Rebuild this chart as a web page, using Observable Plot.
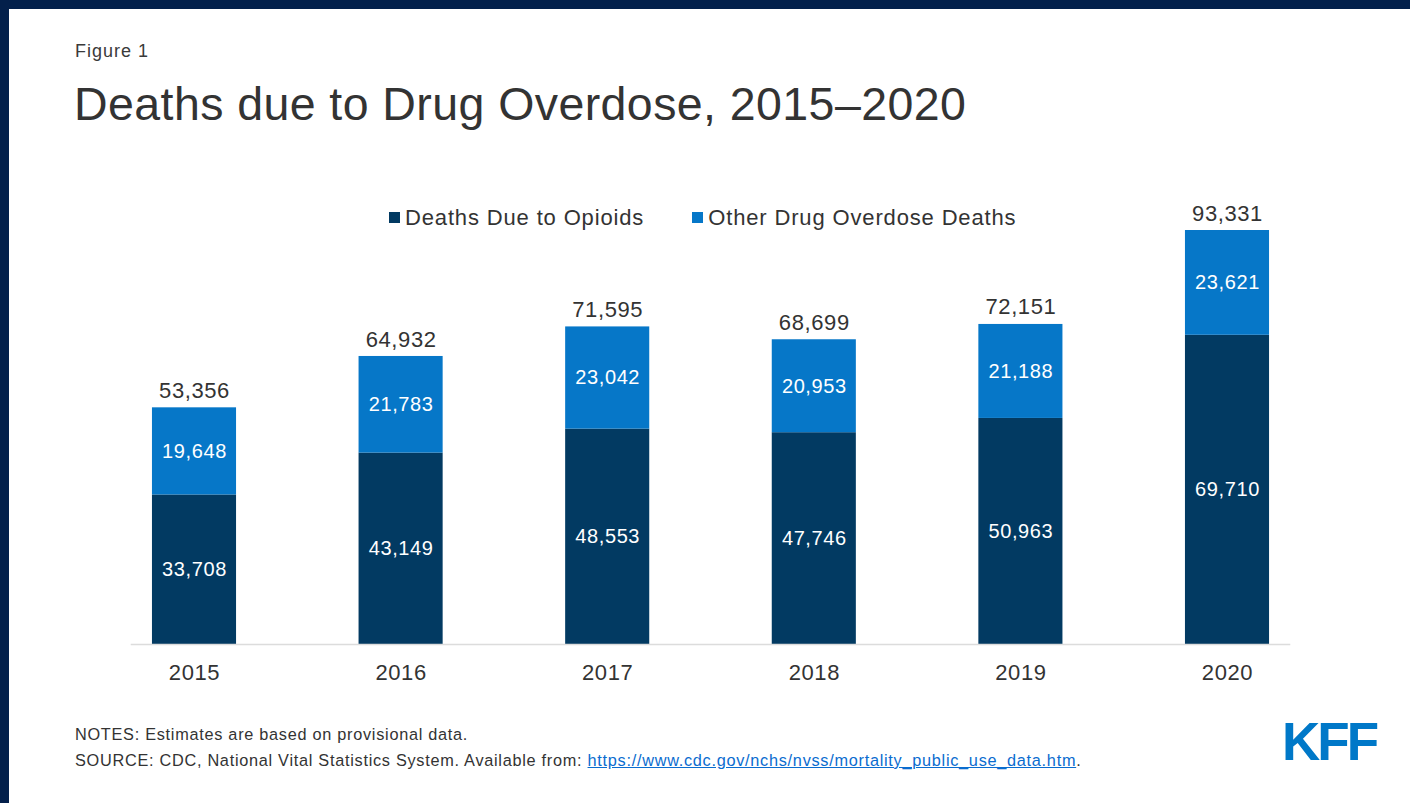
<!DOCTYPE html>
<html>
<head>
<meta charset="utf-8">
<script src="https://cdn.jsdelivr.net/npm/d3@7"></script>
<script src="https://cdn.jsdelivr.net/npm/@observablehq/plot@0.6"></script>
<style>
  html, body { margin: 0; padding: 0; background: #ffffff; }
  body { width: 1410px; height: 803px; position: relative; overflow: hidden; font-family: "Liberation Sans", Arial, Helvetica, sans-serif; color: #333333; }
  .frame-top { position: absolute; left: 0; top: 0; width: 1410px; height: 9px; background: #03204b; }
  .frame-left { position: absolute; left: 0; top: 0; width: 9px; height: 803px; background: #03204b; }
  .fig { position: absolute; left: 75px; top: 41px; font-size: 18px; letter-spacing: 1px; color: #3a3a3a; }
  .title { position: absolute; left: 74px; top: 77px; font-size: 46.5px; letter-spacing: 0.42px; color: #333333; white-space: nowrap; }
  .legend { position: absolute; top: 203px; left: 389px; font-size: 22px; letter-spacing: 0.85px; color: #333333; white-space: nowrap; }
  .legend span.item { display: inline-flex; align-items: center; }
  .legend span.sw { display: inline-block; width: 11px; height: 11px; margin-right: 5px; }
  .notes { position: absolute; left: 75px; top: 721px; font-size: 16.3px; letter-spacing: 0.72px; line-height: 26px; color: #333333; white-space: nowrap; }
  .notes a { color: #0a6ccf; text-decoration: underline; }
  .logo { position: absolute; left: 1282px; top: 711px; font-size: 53px; font-weight: 900; color: #0078c8; letter-spacing: -3px; font-family: "Liberation Sans", Arial, sans-serif; }
  #chart { position: absolute; left: 0; top: 180px; }
  #chart svg text { letter-spacing: 0.6px; }
</style>
</head>
<body>
<div class="frame-top"></div>
<div class="frame-left"></div>
<div class="fig">Figure 1</div>
<div class="title">Deaths due to Drug Overdose, 2015–2020</div>
<div class="legend" id="legend"></div>
<div id="chart"></div>
<div class="notes">NOTES: Estimates are based on provisional data.<br>SOURCE: CDC, National Vital Statistics System. Available from: <a href="https://www.cdc.gov/nchs/nvss/mortality_public_use_data.htm">https://www.cdc.gov/nchs/nvss/mortality_public_use_data.htm</a>.</div>
<div class="logo">KFF</div>
<script>
const years = ["2015", "2016", "2017", "2018", "2019", "2020"];
const opioidDeaths = [33708, 43149, 48553, 47746, 50963, 69710];
const otherDeaths = [19648, 21783, 23042, 20953, 21188, 23621];
const seriesNames = ["Deaths Due to Opioids", "Other Drug Overdose Deaths"];
const seriesColors = ["#023a62", "#0677c8"];

const fmt = d3.format(",");
const rows = [];
years.forEach((y, i) => {
  rows.push({year: y, series: seriesNames[0], value: opioidDeaths[i]});
  rows.push({year: y, series: seriesNames[1], value: otherDeaths[i]});
});
const totals = years.map((y, i) => ({year: y, total: opioidDeaths[i] + otherDeaths[i]}));

// legend
const legend = document.getElementById("legend");
seriesNames.forEach((name, i) => {
  const item = document.createElement("span");
  item.className = "item";
  item.style.marginRight = i === 0 ? "48px" : "0";
  const sw = document.createElement("span");
  sw.className = "sw";
  sw.style.background = seriesColors[i];
  item.appendChild(sw);
  item.appendChild(document.createTextNode(name));
  legend.appendChild(item);
});

const chart = Plot.plot({
  width: 1410,
  height: 510,
  marginLeft: 90.7,
  marginRight: 79.7,
  marginTop: 50,
  marginBottom: 46,
  style: {fontFamily: "Liberation Sans, Arial, sans-serif", background: "transparent"},
  x: {domain: years, paddingInner: 0.593, paddingOuter: 0.2965, round: false, label: null},
  y: {domain: [0, d3.max(totals, d => d.total)], axis: null},
  color: {domain: seriesNames, range: seriesColors},
  marks: [
    Plot.barY(rows, {x: "year", y: "value", fill: "series", order: seriesNames}),
    Plot.ruleY([0], {stroke: "#dcdcdc", strokeWidth: 1.5, insetLeft: 40, insetRight: 40}),
    Plot.axisX({tickSize: 0, tickPadding: 20, fontSize: 22, color: "#333333", label: null}),
    Plot.text(rows, Plot.stackY({x: "year", y: "value", z: "series", order: seriesNames, text: d => fmt(d.value), fill: "white", fontSize: 20})),
    Plot.text(totals, {x: "year", y: "total", text: d => fmt(d.total), dy: -17, fontSize: 22, fill: "#333333"})
  ]
});
document.getElementById("chart").appendChild(chart);
</script>
</body>
</html>
